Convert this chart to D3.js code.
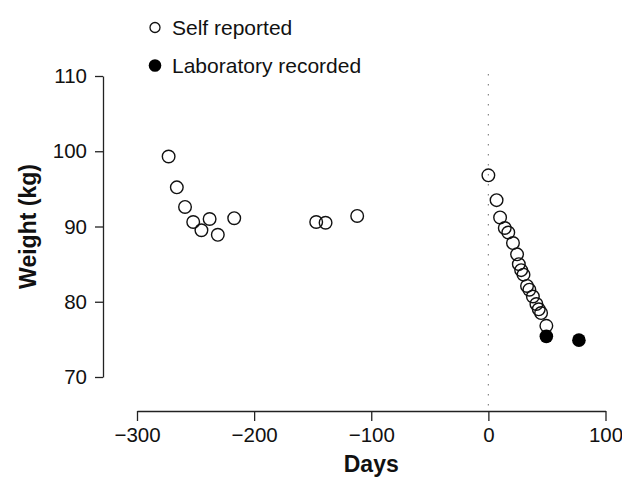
<!DOCTYPE html>
<html>
<head>
<meta charset="utf-8">
<script src="https://cdn.jsdelivr.net/npm/d3@7"></script>
<style>
  html, body { margin: 0; padding: 0; background: #fff; }
  svg { display: block; font-family: "Liberation Sans", Arial, Helvetica, sans-serif; }
</style>
</head>
<body>
<svg id="chart" width="622" height="480"></svg>
<script>
// ---- data ----
const selfDays    = [-273, -266, -259, -252, -245, -238, -231, -217, -147, -139, -112,
                     0, 7, 10, 14, 17, 21, 24.5, 26, 28, 30, 33, 35, 38, 41, 43, 45, 49.5];
const selfWeights = [99.3, 95.2, 92.6, 90.6, 89.5, 91.0, 88.9, 91.1, 90.6, 90.5, 91.4,
                     96.8, 93.5, 91.2, 89.8, 89.2, 87.8, 86.3, 85.0, 84.2, 83.6, 82.1, 81.6, 80.7, 79.7, 79.0, 78.5, 76.8];
const labDays     = [49.5, 77.3];
const labWeights  = [75.4, 74.9];
const xTicks = [-300, -200, -100, 0, 100];
const yTicks = [70, 80, 90, 100, 110];
const legendLabels = ["Self reported", "Laboratory recorded"];
const xTitle = "Days";
const yTitle = "Weight (kg)";

// ---- drawing ----
const svg = d3.select("#chart");
const x = d3.scaleLinear().domain([-300, 100]).range([137, 605.5]);
const y = d3.scaleLinear().domain([70, 110]).range([377, 76]);
const fmt = d => (d < 0 ? "\u2212" + Math.abs(d) : String(d));

// dotted reference line at day 0
svg.append("line")
  .attr("x1", x(0)).attr("x2", x(0))
  .attr("y1", 74).attr("y2", 411)
  .attr("stroke", "#888").attr("stroke-width", 1.2)
  .attr("stroke-dasharray", "1.5,8.5");

// x axis
const xAxis = d3.axisBottom(x).tickValues(xTicks).tickFormat(fmt).tickSize(10).tickPadding(6).tickSizeOuter(0);
const gx = svg.append("g").attr("transform", "translate(0,411)").call(xAxis);
gx.select(".domain").attr("stroke", "#222").attr("stroke-width", 1.3);
gx.selectAll(".tick line").attr("stroke", "#222").attr("stroke-width", 1.3);
gx.selectAll(".tick text").attr("font-size", 20.5).attr("fill", "#111").attr("font-family", "Liberation Sans, Arial, sans-serif");

// y axis
const yAxis = d3.axisLeft(y).tickValues(yTicks).tickSize(8).tickPadding(8).tickSizeOuter(0);
const gy = svg.append("g").attr("transform", "translate(103,0)").call(yAxis);
gy.select(".domain").attr("stroke", "#222").attr("stroke-width", 1.3);
gy.selectAll(".tick line").attr("stroke", "#222").attr("stroke-width", 1.3);
gy.selectAll(".tick text").attr("font-size", 20.5).attr("fill", "#111").attr("font-family", "Liberation Sans, Arial, sans-serif");

// axis titles
svg.append("text").attr("x", x(-100)).attr("y", 472)
  .attr("text-anchor", "middle").attr("font-size", 23).attr("font-weight", "bold").attr("fill", "#111")
  .text(xTitle);
svg.append("text").attr("transform", `translate(36,${y(90)}) rotate(-90)`)
  .attr("text-anchor", "middle").attr("font-size", 23).attr("font-weight", "bold").attr("fill", "#111")
  .text(yTitle);

// points
const selfData = selfDays.map((d, i) => ({ d, w: selfWeights[i] }));
const labData = labDays.map((d, i) => ({ d, w: labWeights[i] }));
svg.append("g").selectAll("circle").data(selfData).join("circle")
  .attr("cx", p => x(p.d)).attr("cy", p => y(p.w)).attr("r", 6.3)
  .attr("fill", "none").attr("stroke", "#111").attr("stroke-width", 1.4);
svg.append("g").selectAll("circle").data(labData).join("circle")
  .attr("cx", p => x(p.d)).attr("cy", p => y(p.w)).attr("r", 6.8)
  .attr("fill", "#000");

// legend
const lg = svg.append("g");
lg.append("circle").attr("cx", 155).attr("cy", 27.5).attr("r", 5).attr("fill", "none").attr("stroke", "#111").attr("stroke-width", 1.3);
lg.append("circle").attr("cx", 155).attr("cy", 65.5).attr("r", 6.3).attr("fill", "#000");
lg.append("text").attr("x", 172).attr("y", 34.5).attr("font-size", 21).attr("fill", "#111").text(legendLabels[0]);
lg.append("text").attr("x", 172).attr("y", 72.5).attr("font-size", 21).attr("fill", "#111").text(legendLabels[1]);
</script>
</body>
</html>
